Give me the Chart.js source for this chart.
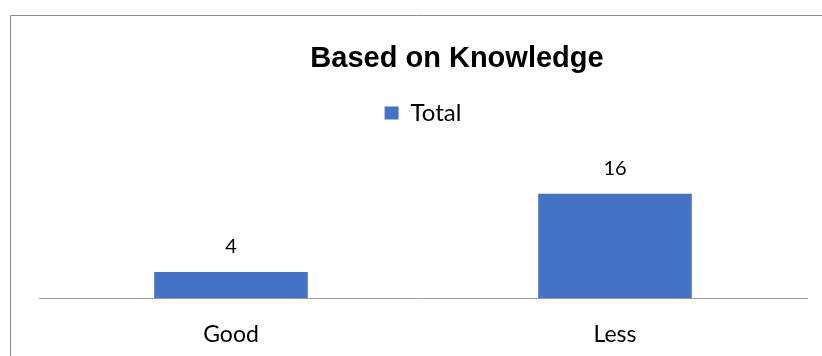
<!DOCTYPE html>
<html>
<head>
<meta charset="utf-8">
<script src="https://cdn.jsdelivr.net/npm/chart.js@4/dist/chart.umd.min.js"></script>
<style>
  html, body { margin: 0; padding: 0; background: #ffffff; }
  #wrap { width: 822px; height: 356px; position: relative; }
</style>
</head>
<body>
<div id="wrap"><canvas id="c" width="822" height="356"></canvas></div>
<script>
const chartTitle = "Based on Knowledge";
const categories = ["Good", "Less"];
const seriesName = "Total";
const totalValues = [4, 16];
const yMax = 25;

const frame = {
  id: 'frame',
  beforeDraw(chart) {
    const ctx = chart.ctx;
    ctx.save();
    ctx.fillStyle = '#ffffff';
    ctx.fillRect(0, 0, chart.width, chart.height);
    ctx.strokeStyle = '#8c8c8c';
    ctx.lineWidth = 1;
    ctx.beginPath();
    ctx.moveTo(10.5, chart.height + 2);
    ctx.lineTo(10.5, 15.5);
    ctx.lineTo(chart.width + 2, 15.5);
    ctx.stroke();
    ctx.restore();
  }
};

const titleText = {
  id: 'titleText',
  afterDraw(chart) {
    const ctx = chart.ctx;
    ctx.save();
    ctx.font = 'bold 29px "Liberation Sans"';
    ctx.fillStyle = '#000000';
    ctx.textAlign = 'center';
    ctx.textBaseline = 'alphabetic';
    ctx.fillText(chartTitle, 457, 67);
    ctx.restore();
  }
};

const valueLabels = {
  id: 'valueLabels',
  afterDatasetsDraw(chart) {
    const ctx = chart.ctx;
    ctx.save();
    ctx.font = '20px Lato';
    ctx.fillStyle = '#000000';
    ctx.textAlign = 'center';
    ctx.textBaseline = 'alphabetic';
    chart.data.datasets.forEach((ds, i) => {
      chart.getDatasetMeta(i).data.forEach((bar, j) => {
        ctx.fillText(String(ds.data[j]), bar.x, bar.y - 19);
      });
    });
    ctx.restore();
  }
};

new Chart(document.getElementById('c'), {
  type: 'bar',
  data: {
    labels: categories,
    datasets: [{
      label: seriesName,
      data: totalValues,
      backgroundColor: '#4472C4',
      borderWidth: 0,
      barPercentage: 0.8,
      categoryPercentage: 0.5
    }]
  },
  options: {
    responsive: false,
    animation: false,
    layout: { padding: { left: 39, right: 15, top: 45.5, bottom: 7.7 } },
    plugins: {
      title: { display: false },
      legend: {
        display: true,
        position: 'top',
        labels: {
          color: '#000000',
          font: { family: 'Lato', size: 24 },
          boxWidth: 14,
          boxHeight: 13,
          padding: 55.6
        }
      },
      tooltip: { enabled: false }
    },
    scales: {
      x: {
        grid: { display: false, drawTicks: true, tickLength: 22.7 },
        border: { display: true, color: '#a0a0a0', width: 1 },
        ticks: { color: '#000000', font: { family: 'Lato', size: 23 }, padding: 0 }
      },
      y: {
        display: false,
        min: 0,
        max: yMax
      }
    }
  },
  plugins: [frame, valueLabels, titleText]
});
</script>
</body>
</html>
